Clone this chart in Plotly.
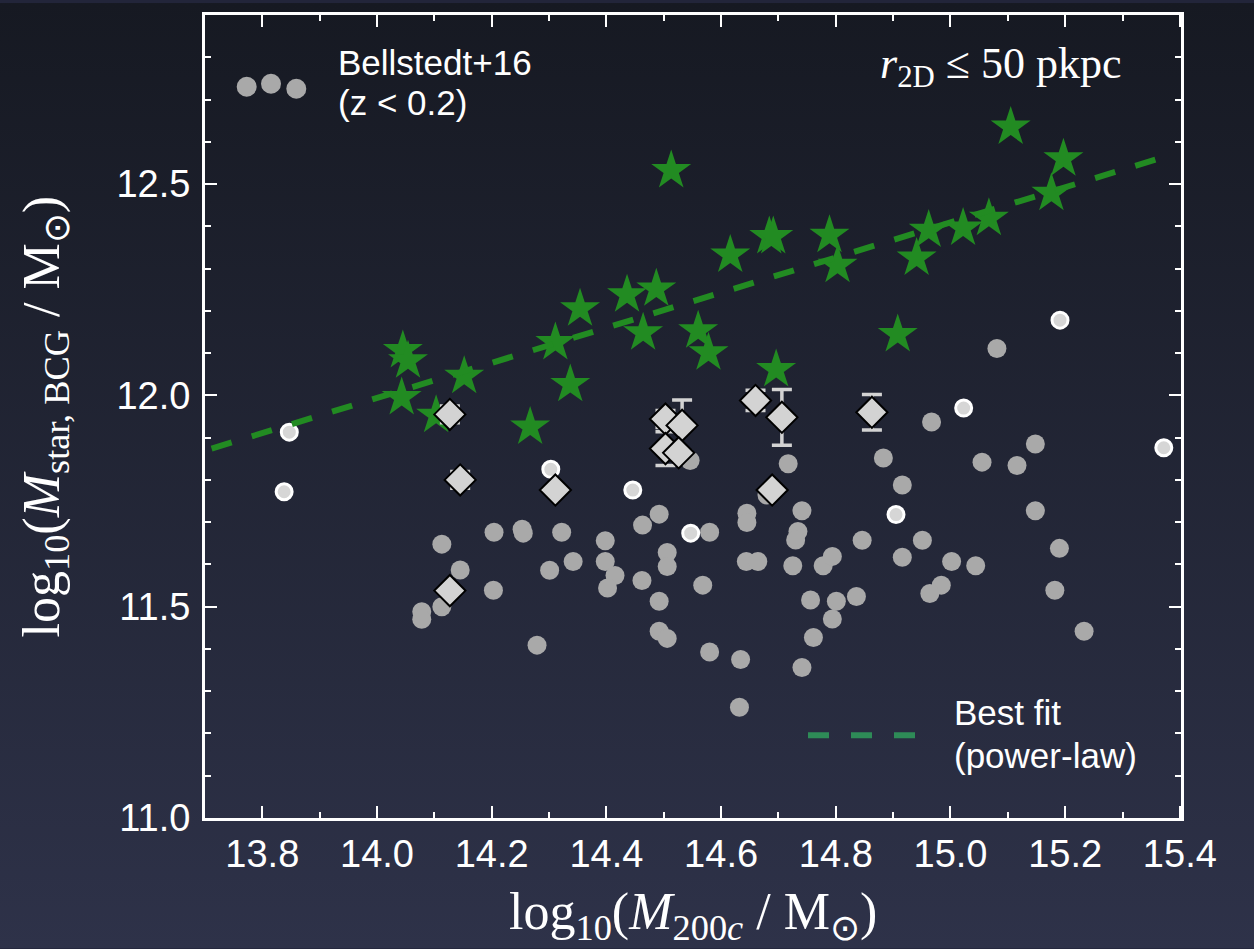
import base64
import plotly.graph_objects as go

# ---------------- data ----------------
# Bellstedt+16 observed BCGs (z < 0.2)
obs_x = [14.113, 14.145, 14.113, 14.078, 14.078, 14.204, 14.253, 14.255, 14.203, 14.279,
         14.301, 14.322, 14.342, 14.398, 14.398, 14.415, 14.402, 14.463, 14.492, 14.462,
         14.506, 14.506, 14.492, 14.492, 14.506, 14.546, 14.568, 14.580, 14.580, 14.634,
         14.632, 14.645, 14.645, 14.644, 14.664, 14.680, 14.717, 14.741, 14.734, 14.730,
         14.725, 14.778, 14.794, 14.756, 14.801, 14.836, 14.794, 14.761, 14.741, 14.846,
         14.883, 14.916, 14.916, 14.951, 14.967, 15.002, 15.044, 14.984, 14.964, 15.055,
         15.081, 15.116, 15.148, 15.148, 15.190, 15.182, 15.233]
obs_y = [11.648, 11.587, 11.500, 11.488, 11.470, 11.676, 11.683, 11.674, 11.539, 11.409,
         11.586, 11.676, 11.607, 11.656, 11.607, 11.574, 11.544, 11.693, 11.719, 11.562,
         11.628, 11.595, 11.513, 11.442, 11.425, 11.846, 11.551, 11.676, 11.393, 11.375,
         11.262, 11.721, 11.699, 11.607, 11.607, 11.764, 11.838, 11.727, 11.678, 11.658,
         11.597, 11.597, 11.619, 11.516, 11.513, 11.524, 11.471, 11.427, 11.356, 11.657,
         11.852, 11.788, 11.617, 11.657, 11.937, 11.607, 11.597, 11.551, 11.531, 11.842,
         12.111, 11.834, 11.885, 11.727, 11.638, 11.539, 11.442]

# highlighted (white-edged) observed BCGs
hl_x = [13.847, 13.838, 14.303, 14.446, 14.547, 14.905, 15.023, 15.191, 15.372]
hl_y = [11.913, 11.772, 11.825, 11.776, 11.674, 11.718, 11.970, 12.178, 11.876]

# simulated BCGs (r_2D <= 50 pkpc)
sim_x = [14.045, 14.054, 14.043, 14.103, 14.152, 14.267, 14.311, 14.337, 14.354, 14.436,
         14.487, 14.464, 14.560, 14.578, 14.513, 14.616, 14.684, 14.691, 14.696, 14.789,
         14.803, 14.908, 14.941, 14.962, 15.022, 15.067, 15.105, 15.176, 15.197]
sim_y = [12.106, 12.082, 11.995, 11.953, 12.045, 11.925, 12.125, 12.026, 12.205, 12.238,
         12.252, 12.148, 12.153, 12.101, 12.532, 12.332, 12.376, 12.376, 12.061, 12.379,
         12.308, 12.144, 12.325, 12.391, 12.396, 12.419, 12.635, 12.478, 12.560]

# diamonds with error bars
dia_x = [14.127, 14.145, 14.311, 14.127, 14.503, 14.532, 14.503, 14.526, 14.660, 14.706, 14.689, 14.863]
dia_y = [11.955, 11.800, 11.776, 11.538, 11.944, 11.929, 11.874, 11.864, 11.988, 11.948, 11.776, 11.960]
dia_err = [0.020, 0.020, 0.0, 0.0, 0.020, 0.060, 0.040, 0.0, 0.024, 0.066, 0.0, 0.042]

# best-fit power law (end points)
fit_x = [13.7115, 15.382]
fit_y = [11.874, 12.568]

x_ticks = [13.8, 14.0, 14.2, 14.4, 14.6, 14.8, 15.0, 15.2, 15.4]
y_ticks = [11.0, 11.5, 12.0, 12.5]

# ---------------- figure ----------------
W, H = 1254, 949
ML, MR, MT, MB = 205, 73, 12, 131
PW, PH = W - ML - MR, H - MT - MB


def px2paper_x(px):
    return (px - ML) / PW


def px2paper_y(py):
    return (H - MB - py) / PH


fig = go.Figure()

fig.add_trace(go.Scatter(x=obs_x, y=obs_y, mode="markers",
                         marker=dict(size=19, color="#a9a9a9", line=dict(width=0)),
                         showlegend=False, hoverinfo="skip"))
fig.add_trace(go.Scatter(x=hl_x, y=hl_y, mode="markers",
                         marker=dict(size=16, color="#d6d6d6", line=dict(width=3, color="white")),
                         showlegend=False, hoverinfo="skip"))
fig.add_trace(go.Scatter(x=sim_x, y=sim_y, mode="markers",
                         marker=dict(symbol="star", size=30, color="#228B22", line=dict(width=0)),
                         showlegend=False, hoverinfo="skip"))
fig.add_trace(go.Scatter(x=fit_x, y=fit_y, mode="lines",
                         line=dict(color="#228B22", width=6, dash="21px,21px"),
                         showlegend=False, hoverinfo="skip"))
fig.add_trace(go.Scatter(x=dia_x, y=dia_y, mode="markers",
                         error_y=dict(type="data", array=dia_err, visible=True,
                                      color="#d3d3d3", thickness=3.5, width=10),
                         marker=dict(symbol="diamond", size=24, color="#d3d3d3",
                                     line=dict(width=2, color="black")),
                         showlegend=False, hoverinfo="skip"))

# background gradient
svg = ('<svg xmlns="http://www.w3.org/2000/svg" width="10" height="100" preserveAspectRatio="none">'
       '<defs><linearGradient id="g" x1="0" y1="0" x2="0" y2="1">'
       '<stop offset="0" stop-color="#161922"/><stop offset="1" stop-color="#2e3249"/>'
       '</linearGradient></defs><rect width="10" height="100" fill="url(#g)"/></svg>')
uri = "data:image/svg+xml;base64," + base64.b64encode(svg.encode()).decode()

axis_common = dict(
    showline=True, linecolor="white", linewidth=3, mirror="ticks",
    ticks="inside", ticklen=12, tickwidth=2, tickcolor="white",
    showgrid=False, zeroline=False, tickformat=".1f",
    tickfont=dict(family="Liberation Sans, Arial, sans-serif", size=38, color="white"),
    minor=dict(ticks="inside", ticklen=6, tickwidth=2, tickcolor="white", dtick=0.1, showgrid=False),
)

fig.update_xaxes(range=[13.7, 15.402], tickvals=x_ticks, **axis_common)
fig.update_yaxes(range=[11.0, 12.9], tickvals=y_ticks, ticklabelstandoff=4, **axis_common)

shapes = []
# legend dots (Bellstedt+16)
for (px, py) in [(246.7, 84), (271, 81), (296.3, 86)]:
    shapes.append(dict(type="circle", xref="paper", yref="paper",
                       xsizemode="pixel", ysizemode="pixel",
                       xanchor=px2paper_x(px), yanchor=px2paper_y(py),
                       x0=-10, x1=10, y0=-10, y1=10,
                       fillcolor="#a9a9a9", line=dict(width=0)))
# legend dashed line (best fit)
shapes.append(dict(type="line", xref="paper", yref="paper",
                   x0=px2paper_x(808), x1=px2paper_x(915),
                   y0=px2paper_y(735), y1=px2paper_y(735),
                   line=dict(color="#2e8b57", width=6, dash="21px,22px")))

sans = "Liberation Sans, Arial, sans-serif"
serif = "Liberation Serif, Times New Roman, serif"
annotations = [
    dict(text="Bellstedt+16", x=px2paper_x(336), y=px2paper_y(60), xref="paper", yref="paper",
         xanchor="left", yanchor="middle", showarrow=False, font=dict(family=sans, size=35, color="white")),
    dict(text="(z < 0.2)", x=px2paper_x(336), y=px2paper_y(100), xref="paper", yref="paper",
         xanchor="left", yanchor="middle", showarrow=False, font=dict(family=sans, size=35, color="white")),
    dict(text="Best fit", x=px2paper_x(952), y=px2paper_y(712), xref="paper", yref="paper",
         xanchor="left", yanchor="middle", showarrow=False, font=dict(family=sans, size=35, color="white")),
    dict(text="(power-law)", x=px2paper_x(952), y=px2paper_y(755), xref="paper", yref="paper",
         xanchor="left", yanchor="middle", showarrow=False, font=dict(family=sans, size=35, color="white")),
    dict(text="<i>r</i><sub>2D</sub> ≤ 50 pkpc", x=px2paper_x(1123), y=px2paper_y(64),
         xref="paper", yref="paper", xanchor="right", yanchor="middle", showarrow=False,
         font=dict(family=serif, size=44, color="white")),
    dict(text="log<sub>10</sub>(<i>M</i><sub>200<i>c</i></sub> / M<sub>⊙</sub>)",
         x=px2paper_x(693), y=px2paper_y(916), xref="paper", yref="paper",
         xanchor="center", yanchor="middle", showarrow=False,
         font=dict(family=serif, size=52, color="white")),
    dict(text="log<sub>10</sub>(<i>M</i><sub>star, BCG</sub> / M<sub>⊙</sub>)",
         x=px2paper_x(45), y=px2paper_y(415), xref="paper", yref="paper",
         xanchor="center", yanchor="middle", textangle=-90, showarrow=False,
         font=dict(family=serif, size=52, color="white")),
]

fig.update_layout(
    width=W, height=H,
    margin=dict(l=ML, r=MR, t=MT, b=MB, pad=0),
    paper_bgcolor="#22253a", plot_bgcolor="rgba(0,0,0,0)",
    images=[dict(source=uri, xref="paper", yref="paper",
                 x=px2paper_x(0), y=px2paper_y(0),
                 sizex=W / PW, sizey=H / PH,
                 xanchor="left", yanchor="top", sizing="stretch", layer="below")],
    shapes=shapes, annotations=annotations, showlegend=False,
)

fig.write_html("out.html", include_plotlyjs=True, config={"displayModeBar": False})
